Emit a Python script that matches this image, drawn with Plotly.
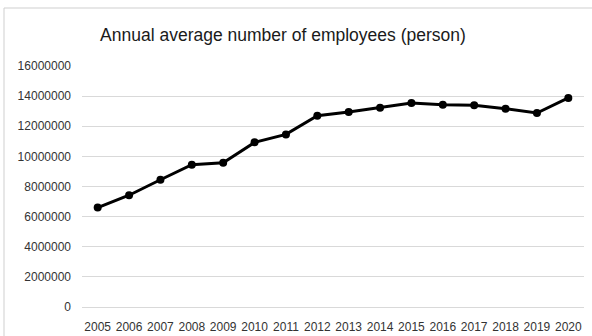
import plotly.graph_objects as go

years = [str(y) for y in range(2005, 2021)]
employees = [6600000, 7420000, 8450000, 9450000, 9570000, 10930000, 11460000, 12700000,
             12950000, 13230000, 13550000, 13420000, 13400000, 13160000, 12880000, 13880000]
y_ticks = [0, 2000000, 4000000, 6000000, 8000000, 10000000, 12000000, 14000000, 16000000]
title_text = "Annual average number of employees (person)"

FONT = "Liberation Sans"

fig = go.Figure(go.Scatter(
    x=years, y=employees, mode="lines+markers",
    line=dict(color="black", width=3),
    marker=dict(color="black", size=8),
    cliponaxis=False,
))

fig.update_layout(
    width=592, height=336,
    margin=dict(l=82, r=8, t=66, b=29, autoexpand=False),
    paper_bgcolor="white", plot_bgcolor="white",
    showlegend=False,
    title=dict(text=title_text, x=0.478, xanchor="center", y=1 - 35 / 336, yanchor="middle",
               yref="container", font=dict(family=FONT, size=17.5, color="#1a1a1a")),
    font=dict(family=FONT, size=12, color="#333333"),
    xaxis=dict(type="category", range=[-0.5, 15.5], showgrid=False, zeroline=False,
               showline=False, ticks="", ticklabelstandoff=11, automargin=False,
               tickfont=dict(family=FONT, size=12, color="#333333")),
    yaxis=dict(range=[0, 16000000], tickvals=y_ticks, ticktext=[str(v) for v in y_ticks],
               showgrid=True, gridcolor="#d9d9d9", gridwidth=1, zeroline=True,
               zerolinecolor="#d9d9d9", zerolinewidth=1, showline=False, ticks="",
               ticklabelstandoff=10, automargin=False,
               tickfont=dict(family=FONT, size=12, color="#333333")),
    shapes=[
        dict(type="line", xref="paper", yref="paper", x0=(4 - 82) / 502, x1=1.05,
             y0=(307 - 8) / 241, y1=(307 - 8) / 241, line=dict(color="#cfcfcf", width=1)),
        dict(type="line", xref="paper", yref="paper", x0=(4 - 82) / 502, x1=(4 - 82) / 502,
             y0=(307 - 8) / 241, y1=-0.2, line=dict(color="#cfcfcf", width=1)),
    ],
)

fig.write_html("out.html", config={"displayModeBar": False},
               post_script="document.body.style.margin='0';")
